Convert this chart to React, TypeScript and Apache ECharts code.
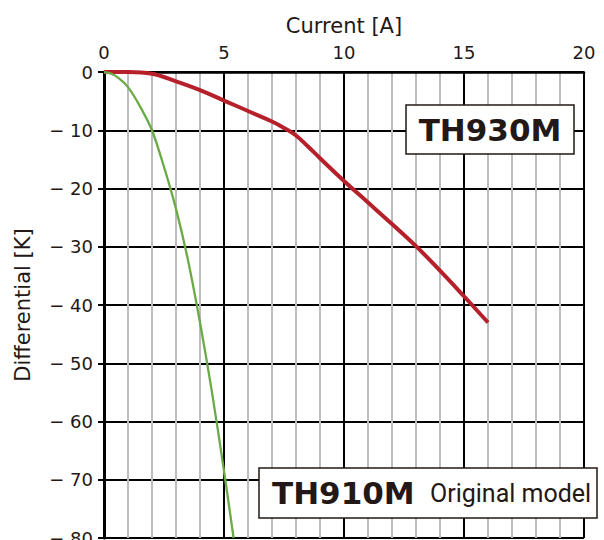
import React, { useEffect, useRef } from "react";
import * as echarts from "echarts";

const xTicks = [0, 5, 10, 15, 20];
const yTicks = [0, -10, -20, -30, -40, -50, -60, -70, -80];

const th930mCurrent = [0, 1, 2, 3, 4, 5, 6, 7, 7.5, 8, 8.5, 9, 10, 11, 12, 13, 14, 15, 16];
const th930mDiff = [0, 0, -0.3, -1.6, -3.1, -4.9, -6.7, -8.5, -9.6, -10.9, -12.8, -14.8, -18.7, -22.4, -26.1, -29.9, -34.1, -38.5, -43];

const th910mCurrent = [0, 0.3, 0.6, 1, 1.5, 2, 2.5, 3, 3.5, 4, 4.5, 5, 5.4];
const th910mDiff = [0, -0.3, -1, -2.6, -5.9, -10, -16.3, -23.5, -32.3, -43, -55, -68.5, -80];

const ink = "#231815";

export default function App() {
  const ref = useRef<HTMLDivElement>(null);
  useEffect(() => {
    if (!ref.current) return;
    const chart = echarts.init(ref.current, null, { renderer: "svg" });
    const red = th930mCurrent.map((x, i) => [x, th930mDiff[i]]);
    const green = th910mCurrent.map((x, i) => [x, th910mDiff[i]]);
    chart.setOption({
      animation: false,
      backgroundColor: "#ffffff",
      grid: {
        left: 104,
        right: 20,
        top: 72,
        bottom: 2,
        containLabel: false,
        outerBoundsMode: "none",
      },
      xAxis: {
        type: "value",
        position: "top",
        min: xTicks[0],
        max: xTicks[xTicks.length - 1],
        interval: 5,
        name: "Current [A]",
        nameLocation: "middle",
        nameGap: 36,
        nameTextStyle: { fontSize: 21, color: ink, fontFamily: "DejaVu Sans" },
        axisLine: { show: true, onZero: false, lineStyle: { color: "#000", width: 2.5 } },
        axisTick: { show: false },
        axisLabel: { fontSize: 18, color: ink, fontFamily: "DejaVu Sans", margin: 11 },
        splitLine: { show: true, lineStyle: { color: "#000", width: 2 } },
        minorTick: { show: false, splitNumber: 5 },
        minorSplitLine: { show: true, lineStyle: { color: "#bdbdbd", width: 2 } },
      },
      yAxis: {
        type: "value",
        min: yTicks[yTicks.length - 1],
        max: yTicks[0],
        interval: 10,
        name: "Differential [K]",
        nameLocation: "middle",
        nameGap: 71,
        nameTextStyle: { fontSize: 21, color: ink, fontFamily: "DejaVu Sans" },
        axisLine: { show: true, onZero: false, lineStyle: { color: "#000", width: 3 } },
        axisTick: { show: true, length: 6, lineStyle: { color: "#000", width: 2 } },
        axisLabel: {
          fontSize: 18,
          color: ink,
          fontFamily: "DejaVu Sans",
          margin: 11,
          formatter: (v: number) => (v === 0 ? "0" : "\u2212 " + Math.abs(v)),
        },
        splitLine: { show: true, lineStyle: { color: "#000", width: 2 } },
      },
      series: [
        {
          name: "TH930M",
          type: "line",
          data: red,
          smooth: 0.4,
          symbol: "none",
          lineStyle: { color: "#b5202b", width: 4 },
          z: 3,
        },
        {
          name: "TH910M",
          type: "line",
          data: green,
          smooth: 0.3,
          symbol: "none",
          lineStyle: { color: "#6aab46", width: 2.3 },
          z: 4,
        },
      ],
      graphic: [
        {
          type: "rect",
          z: 100,
          shape: { x: 406, y: 105, width: 168, height: 49 },
          style: { fill: "#fff", stroke: ink, lineWidth: 1.5 },
        },
        {
          type: "text",
          z: 101,
          x: 490,
          y: 130,
          style: {
            text: "TH930M",
            font: 'bold 31px "DejaVu Sans"',
            fill: ink,
            align: "center",
            verticalAlign: "middle",
          },
        },
        {
          type: "rect",
          z: 100,
          shape: { x: 259, y: 468, width: 338, height: 50 },
          style: { fill: "#fff", stroke: ink, lineWidth: 1.5 },
        },
        {
          type: "text",
          z: 101,
          x: 272,
          y: 493,
          style: {
            text: "TH910M",
            font: 'bold 31px "DejaVu Sans"',
            fill: ink,
            align: "left",
            verticalAlign: "middle",
          },
        },
        {
          type: "text",
          z: 101,
          x: 430,
          y: 493,
          style: {
            text: "Original model",
            font: '25px Roboto',
            fill: ink,
            align: "left",
            verticalAlign: "middle",
          },
        },
      ],
    });
    return () => chart.dispose();
  }, []);
  return (
    <div
      ref={ref}
      style={{ position: "fixed", left: 0, top: 0, width: 604, height: 540 }}
    />
  );
}
